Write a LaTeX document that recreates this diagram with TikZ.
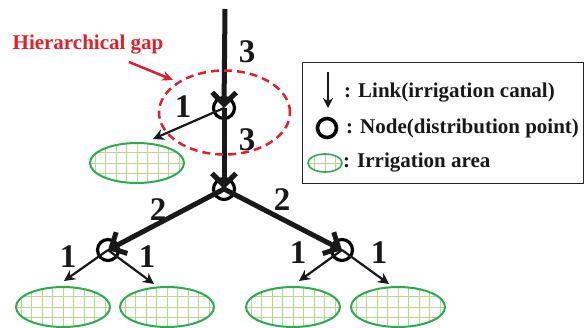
\documentclass[tikz,border=0pt]{standalone}
\usepackage{fontspec}
\setmainfont{Liberation Serif}
\usetikzlibrary{shapes.geometric,arrows.meta}
\definecolor{areagreen}{RGB}{40,175,75}
\definecolor{gridgreen}{RGB}{185,218,140}
\definecolor{gapred}{RGB}{230,30,40}
\tikzset{
  area/.style={ellipse,draw=areagreen,line width=2pt,minimum width=94pt,minimum height=40pt,inner sep=0pt,
    path picture={\draw[gridgreen,line width=0.7pt] ([xshift=-5pt,yshift=-5pt]path picture bounding box.south west) grid[step=10.5pt] ([xshift=5pt,yshift=5pt]path picture bounding box.north east);}},
  dnode/.style={circle,draw=black,line width=3.2pt,minimum size=21pt,inner sep=0pt},
  thicklink/.style={line width=5pt,black!90,-{Straight Barb[length=12pt,width=24pt]}},
  thinlink/.style={line width=2.2pt,black!90,-{Stealth[length=11pt,width=11pt]}},
  numlbl/.style={font=\fontsize{33}{36}\selectfont\bfseries,text=black!90,inner sep=0pt},
  txt/.style={font=\fontsize{21}{24}\selectfont\bfseries,text=black!90,inner sep=0pt,anchor=west},
}
\begin{document}
\begin{tikzpicture}[x=1pt,y=-1pt]
\useasboundingbox (0,0) rectangle (585,327);
% nodes
\node[dnode] (n1) at (224,108) {};
\node[dnode] (n2) at (224,189) {};
\node[dnode] (n3) at (108,250) {};
\node[dnode] (n4) at (342,250) {};
% areas
\node[area] (a0) at (137,163) {};
\node[area] (a1) at (63,307) {};
\node[area] (a2) at (167,307) {};
\node[area] (a3) at (293,307) {};
\node[area] (a4) at (398,307) {};
% tips
\coordinate (top) at (225,9);
\coordinate (t0) at (153,139);
\coordinate (t1) at (64,281);
\coordinate (t2) at (154,284);
\coordinate (t3) at (299,281);
\coordinate (t4) at (389,284);
% links
\draw[thicklink] (top) -- (n1.center);
\draw[thicklink] (n1.center) -- (n2.center);
\draw[thicklink] (n2.center) -- (n3.center);
\draw[thicklink] (n2.center) -- (n4.center);
\draw[thinlink] (n1.center) -- (t0);
\draw[thinlink] (n3.center) -- (t1);
\draw[thinlink] (n3.center) -- (t2);
\draw[thinlink] (n4.center) -- (t3);
\draw[thinlink] (n4.center) -- (t4);
% numbers
\node[numlbl] (l1) at (247,52) {3};
\node[numlbl] (l2) at (183,107) {1};
\node[numlbl] (l3) at (247,140) {3};
\node[numlbl] (l4) at (158,210) {2};
\node[numlbl] (l5) at (282,200) {2};
\node[numlbl] (l6) at (68,257) {1};
\node[numlbl] (l7) at (147,257) {1};
\node[numlbl] (l8) at (298,253) {1};
\node[numlbl] (l9) at (379,253) {1};
% hierarchical gap
\node[ellipse,draw=gapred,line width=2.5pt,dash pattern=on 8pt off 5pt,minimum width=131pt,minimum height=84pt,inner sep=0pt] (gap) at (224.5,112.5) {};
\node[txt,text=gapred,anchor=center] (gaplbl) at (88,45) {Hierarchical gap};
\coordinate (gaparrow) at (173,80);
\draw[gapred,line width=2.5pt,-{Stealth[length=11pt,width=10pt]}] (129,62) -- (gaparrow);
% legend
\node[draw=black!85,line width=1pt,minimum width=281pt,minimum height=121pt,inner sep=0pt] (legend) at (442.5,122.5) {};
\coordinate (la1) at (328,72);
\coordinate (la2) at (328,108);
\draw[line width=2pt,black!90,-{Stealth[length=10pt,width=10pt]}] (la1) -- (la2);
\node[dnode,minimum size=19pt,line width=3.6pt] (lnode) at (327,128) {};
\node[area,minimum width=34pt,minimum height=18pt,line width=1.6pt] (larea) at (325,163) {};
\node[txt] (t_link) at (344,93) {: Link(irrigation canal)};
\node[txt] (t_node) at (346,128) {: Node(distribution point)};
\node[txt] (t_area) at (343,163) {: Irrigation area};
\end{tikzpicture}
\end{document}
